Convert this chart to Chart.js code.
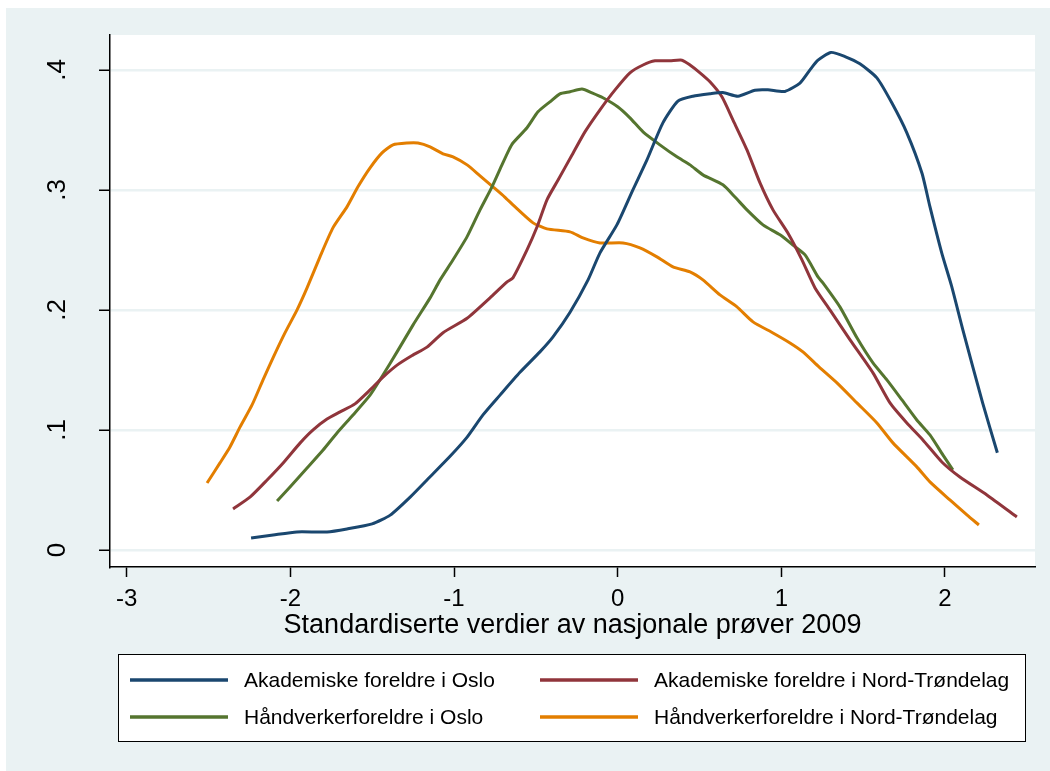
<!DOCTYPE html>
<html>
<head>
<meta charset="utf-8">
<script src="https://cdn.jsdelivr.net/npm/chart.js@4"></script>
<style>
  body { margin: 0; background: #fff; }
  #wrap { width: 1050px; height: 771px; }
</style>
</head>
<body>
<div id="wrap"><canvas id="chart" width="1050" height="771"></canvas></div>
<script>
const xTicks = [-3, -2, -1, 0, 1, 2];
const yTicks = [0, 0.1, 0.2, 0.3, 0.4];
const yTickLabels = ["0", ".1", ".2", ".3", ".4"];

const seriesNames = [
  "Akademiske foreldre i Oslo",
  "Akademiske foreldre i Nord-Trøndelag",
  "Håndverkerforeldre i Oslo",
  "Håndverkerforeldre i Nord-Trøndelag"
];

const akadOsloX = [-2.24, -2.105, -1.96, -1.776, -1.654, -1.50, -1.39, -1.268, -1.146, -1.024, -0.92, -0.823, -0.719, -0.597, -0.475, -0.395, -0.291, -0.181, -0.108, -0.004, 0.093, 0.179, 0.277, 0.368, 0.46, 0.564, 0.643, 0.735, 0.839, 0.918, 1.022, 1.114, 1.175, 1.224, 1.303, 1.389, 1.48, 1.584, 1.675, 1.767, 1.859, 1.908, 1.98, 2.04, 2.11, 2.23, 2.32];
const akadOsloY = [0.010, 0.0125, 0.015, 0.015, 0.0175, 0.0217, 0.029, 0.044, 0.061, 0.078, 0.094, 0.1125, 0.129, 0.148, 0.165, 0.1775, 0.198, 0.225, 0.2475, 0.271, 0.30, 0.325, 0.356, 0.374, 0.378, 0.380, 0.381, 0.378, 0.383, 0.3833, 0.382, 0.389, 0.40, 0.408, 0.4145, 0.411, 0.405, 0.3933, 0.3725, 0.3475, 0.314, 0.286, 0.2475, 0.22, 0.183, 0.1225, 0.081];

const akadNTX = [-2.35, -2.245, -2.142, -2.044, -1.941, -1.861, -1.776, -1.696, -1.605, -1.513, -1.434, -1.348, -1.256, -1.165, -1.067, -0.92, -0.78, -0.676, -0.64, -0.554, -0.493, -0.432, -0.365, -0.279, -0.2, -0.108, -0.016, 0.075, 0.155, 0.228, 0.319, 0.393, 0.442, 0.503, 0.564, 0.637, 0.704, 0.79, 0.869, 0.949, 1.04, 1.126, 1.206, 1.297, 1.42, 1.56, 1.664, 1.767, 1.865, 1.981, 2.091, 2.256, 2.439];
const akadNTY = [0.0342, 0.0442, 0.0583, 0.0725, 0.089, 0.1, 0.109, 0.115, 0.1217, 0.1333, 0.144, 0.154, 0.162, 0.169, 0.181, 0.193, 0.21, 0.2233, 0.2267, 0.25, 0.269, 0.2917, 0.308, 0.329, 0.3483, 0.3667, 0.3833, 0.3975, 0.404, 0.4075, 0.4075, 0.408, 0.404, 0.3975, 0.39, 0.3775, 0.3583, 0.3333, 0.306, 0.2833, 0.264, 0.2417, 0.2183, 0.20, 0.175, 0.1475, 0.1225, 0.1058, 0.0917, 0.0733, 0.0608, 0.0458, 0.0275];

const handOsloX = [-2.081, -2.002, -1.898, -1.8, -1.715, -1.617, -1.513, -1.434, -1.348, -1.25, -1.146, -1.085, -1.006, -0.92, -0.841, -0.768, -0.707, -0.664, -0.64, -0.554, -0.487, -0.414, -0.353, -0.291, -0.218, -0.157, -0.09, 0.002, 0.075, 0.155, 0.258, 0.362, 0.442, 0.521, 0.643, 0.717, 0.79, 0.888, 0.992, 1.071, 1.145, 1.224, 1.254, 1.358, 1.462, 1.56, 1.645, 1.737, 1.828, 1.908, 1.987, 2.048];
const handOsloY = [0.0408, 0.0525, 0.0683, 0.0833, 0.0975, 0.1125, 0.129, 0.1458, 0.165, 0.1875, 0.21, 0.225, 0.2417, 0.261, 0.2833, 0.3025, 0.3208, 0.3333, 0.339, 0.3517, 0.365, 0.3733, 0.38, 0.3817, 0.384, 0.3808, 0.3767, 0.369, 0.36, 0.3483, 0.3375, 0.3275, 0.3208, 0.3125, 0.3042, 0.294, 0.2833, 0.2708, 0.2625, 0.254, 0.2458, 0.2275, 0.2225, 0.2025, 0.1767, 0.1558, 0.1417, 0.125, 0.1083, 0.0958, 0.0792, 0.0667];

const handNTX = [-2.509, -2.43, -2.369, -2.307, -2.234, -2.167, -2.106, -2.033, -1.959, -1.898, -1.819, -1.74, -1.654, -1.587, -1.513, -1.44, -1.373, -1.287, -1.22, -1.146, -1.067, -1.006, -0.92, -0.841, -0.762, -0.69, -0.64, -0.517, -0.432, -0.291, -0.212, -0.108, 0.033, 0.136, 0.24, 0.338, 0.442, 0.521, 0.625, 0.729, 0.827, 0.949, 1.053, 1.132, 1.23, 1.34, 1.462, 1.584, 1.682, 1.828, 1.908, 2.03, 2.134, 2.207];
const handNTY = [0.0558, 0.0725, 0.0858, 0.1025, 0.1208, 0.1417, 0.16, 0.1808, 0.2, 0.2183, 0.2442, 0.2683, 0.2858, 0.3025, 0.3183, 0.3308, 0.3375, 0.339, 0.339, 0.3358, 0.33, 0.3275, 0.3208, 0.3117, 0.3025, 0.294, 0.2875, 0.2725, 0.2675, 0.265, 0.26, 0.2558, 0.2558, 0.2517, 0.2442, 0.2358, 0.2317, 0.225, 0.2125, 0.2025, 0.19, 0.1808, 0.1725, 0.165, 0.1525, 0.1392, 0.1225, 0.1058, 0.0892, 0.0692, 0.0567, 0.0417, 0.0292, 0.0208];

const colors = ["#1A476F", "#90353B", "#55752F", "#E37E00"];
const BG = "#EAF2F3";
const FONT = "'Liberation Sans', Arial, sans-serif";

function pts(xs, ys) {
  return xs.map((x, i) => ({ x: x, y: ys[i] }));
}

const allSeries = [
  pts(akadOsloX, akadOsloY),
  pts(akadNTX, akadNTY),
  pts(handOsloX, handOsloY),
  pts(handNTX, handNTY)
];

// background: light graph region + white plot region
const bgPlugin = {
  id: "bg",
  beforeDraw(chart) {
    const ctx = chart.ctx;
    const a = chart.chartArea;
    ctx.save();
    ctx.fillStyle = "#fff";
    ctx.fillRect(0, 0, chart.width, chart.height);
    ctx.fillStyle = BG;
    ctx.fillRect(6, 8, chart.width - 6, chart.height - 8);
    ctx.fillStyle = "#fff";
    ctx.fillRect(a.left, a.top, a.right - a.left, a.bottom - a.top);
    ctx.restore();
  }
};

// rotated y tick labels
const yLabelPlugin = {
  id: "ylabels",
  afterDraw(chart) {
    const ctx = chart.ctx;
    const ys = chart.scales.y;
    ctx.save();
    ctx.font = "26px " + FONT;
    ctx.fillStyle = "#000";
    ctx.textAlign = "center";
    ctx.textBaseline = "middle";
    ys.ticks.forEach((t, i) => {
      const py = ys.getPixelForValue(t.value);
      ctx.save();
      ctx.translate(ys.right - 52, py);
      ctx.rotate(-Math.PI / 2);
      ctx.fillText(yTickLabels[i], 0, 0);
      ctx.restore();
    });
    ctx.restore();
  }
};

// boxed two-column legend like Stata
const legendPlugin = {
  id: "boxlegend",
  afterDraw(chart) {
    const ctx = chart.ctx;
    const box = { x: 118, y: 654, w: 907, h: 87 };
    ctx.save();
    ctx.fillStyle = "#fff";
    ctx.fillRect(box.x, box.y, box.w, box.h);
    ctx.strokeStyle = "#000";
    ctx.lineWidth = 1;
    ctx.strokeRect(box.x + 0.5, box.y + 0.5, box.w, box.h);
    ctx.font = "21px " + FONT;
    ctx.textBaseline = "middle";
    ctx.textAlign = "left";
    chart.data.datasets.forEach((ds, i) => {
      const col = i % 2;
      const row = Math.floor(i / 2);
      const lx = col === 0 ? 130 : 540;
      const ly = 680 + row * 37;
      ctx.strokeStyle = ds.borderColor;
      ctx.lineWidth = 3.5;
      ctx.beginPath();
      ctx.moveTo(lx, ly);
      ctx.lineTo(lx + 98, ly);
      ctx.stroke();
      ctx.fillStyle = "#000";
      ctx.fillText(ds.label, lx + 114, ly + 1);
    });
    ctx.restore();
  }
};

const ctx = document.getElementById("chart").getContext("2d");

new Chart(ctx, {
  type: "line",
  data: {
    datasets: allSeries.map((d, i) => ({
      label: seriesNames[i],
      data: d,
      borderColor: colors[i],
      backgroundColor: colors[i],
      borderWidth: 3,
      pointRadius: 0,
      tension: 0.2,
      fill: false
    }))
  },
  options: {
    responsive: false,
    animation: false,
    devicePixelRatio: 1,
    layout: { padding: { left: 0, top: 35, right: 15, bottom: 129 } },
    plugins: {
      legend: { display: false },
      tooltip: { enabled: false }
    },
    scales: {
      x: {
        type: "linear",
        min: -3.102,
        max: 2.55,
        afterBuildTicks: s => { s.ticks = xTicks.map(v => ({ value: v })); },
        afterFit: s => { s.height = 75; },
        border: { display: true, color: "#000", width: 1.5 },
        grid: { drawOnChartArea: false, drawTicks: true, tickLength: 10, tickColor: "#000", tickWidth: 1.5 },
        ticks: {
          color: "#000",
          font: { family: FONT, size: 24 },
          padding: 8,
          maxRotation: 0,
          callback: v => String(v)
        },
        title: {
          display: true,
          text: "Standardiserte verdier av nasjonale prøver 2009",
          color: "#000",
          font: { family: FONT, size: 27 },
          padding: { top: 0, bottom: 0 }
        }
      },
      y: {
        type: "linear",
        min: -0.0142,
        max: 0.429,
        afterBuildTicks: s => { s.ticks = yTicks.map(v => ({ value: v })); },
        afterFit: s => { s.width = 110; },
        border: { display: true, color: "#000", width: 1.5 },
        grid: { color: BG, lineWidth: 2.5, drawTicks: true, tickLength: 11, tickColor: "#000", tickWidth: 1.5 },
        ticks: { display: false }
      }
    }
  },
  plugins: [bgPlugin, yLabelPlugin, legendPlugin]
});
</script>
</body>
</html>
